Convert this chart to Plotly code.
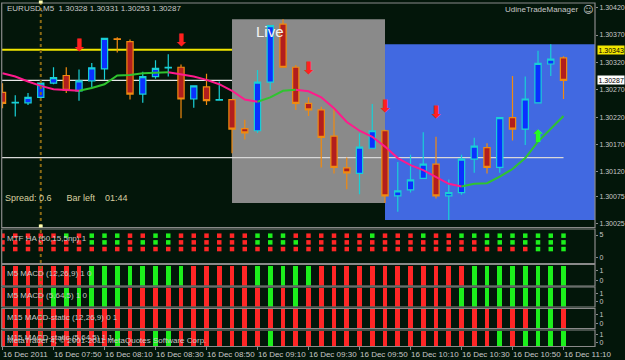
import plotly.graph_objects as go

# ---------------- data ----------------
bars = list(range(45))
opens = [1.30265, 1.30246, 1.30246, 1.30256, 1.30282, 1.30296, 1.30268, 1.30286, 1.30308, 1.30363,
         1.30358, 1.30262, 1.30294, 1.30310, 1.30311, 1.30253, 1.30275, 1.30251, 1.30252, 1.30199,
         1.30195, 1.30284, 1.30390, 1.30311, 1.30245, 1.30233, 1.30185, 1.30127, 1.30117, 1.30163,
         1.30195, 1.30076, 1.30087, 1.30108, 1.30134, 1.30076, 1.30082, 1.30143, 1.30164, 1.30128,
         1.30219, 1.30198, 1.30246, 1.30317, 1.30328]
highs = [1.30282, 1.30260, 1.30264, 1.30285, 1.30311, 1.30311, 1.30307, 1.30319, 1.30365, 1.30366,
         1.30362, 1.30303, 1.30324, 1.30335, 1.30316, 1.30278, 1.30299, 1.30285, 1.30253, 1.30215,
         1.30306, 1.30388, 1.30399, 1.30315, 1.30256, 1.30239, 1.30237, 1.30146, 1.30190, 1.30244,
         1.30197, 1.30138, 1.30151, 1.30192, 1.30184, 1.30106, 1.30151, 1.30182, 1.30172, 1.30220,
         1.30295, 1.30294, 1.30341, 1.30353, 1.30331]
lows = [1.30236, 1.30221, 1.30242, 1.30255, 1.30280, 1.30264, 1.30250, 1.30274, 1.30288, 1.30338,
        1.30252, 1.30246, 1.30290, 1.30294, 1.30218, 1.30237, 1.30242, 1.30250, 1.30154, 1.30179,
        1.30191, 1.30270, 1.30310, 1.30233, 1.30222, 1.30128, 1.30117, 1.30088, 1.30079, 1.30162,
        1.30063, 1.30047, 1.30082, 1.30107, 1.30071, 1.30032, 1.30078, 1.30118, 1.30117, 1.30118,
        1.30177, 1.30169, 1.30245, 1.30295, 1.30253]
closes = [1.30245, 1.30247, 1.30256, 1.30282, 1.30292, 1.30269, 1.30286, 1.30310, 1.30364, 1.30362,
          1.30262, 1.30294, 1.30309, 1.30311, 1.30253, 1.30277, 1.30250, 1.30252, 1.30198, 1.30191,
          1.30284, 1.30387, 1.30311, 1.30245, 1.30233, 1.30183, 1.30128, 1.30118, 1.30165, 1.30195,
          1.30076, 1.30085, 1.30105, 1.30134, 1.30076, 1.30082, 1.30143, 1.30167, 1.30128, 1.30219,
          1.30198, 1.30253, 1.30318, 1.30326, 1.30287]
ma = [1.30300, 1.30294, 1.30285, 1.30277, 1.30271, 1.30269, 1.30268, 1.30273, 1.30280, 1.30296,
      1.30297, 1.30300, 1.30301, 1.30302, 1.30298, 1.30294, 1.30288, 1.30280, 1.30268, 1.30252,
      1.30248, 1.30256, 1.30268, 1.30270, 1.30267, 1.30256, 1.30236, 1.30211, 1.30195, 1.30184,
      1.30166, 1.30145, 1.30132, 1.30123, 1.30110, 1.30098, 1.30093, 1.30098, 1.30099, 1.30111,
      1.30125, 1.30145, 1.30175, 1.30199, 1.30222]

sell_bars = [6, 14, 24, 30, 34]
sell_prices = [1.30348, 1.30357, 1.30306, 1.30237, 1.30226]
buy_bars = [42]
buy_prices = [1.30182]

high_level = 1.30343
trend_level = 1.30146
live_start, live_end = 18, 30
marker_bar = 3

tick_bars = [0, 4, 8, 12, 16, 20, 24, 28, 32, 36, 40, 44]
tick_labels = ["16 Dec 2011", "16 Dec 07:50", "16 Dec 08:10", "16 Dec 08:30", "16 Dec 08:50",
               "16 Dec 09:10", "16 Dec 09:30", "16 Dec 09:50", "16 Dec 10:10", "16 Dec 10:30",
               "16 Dec 10:50", "16 Dec 11:10"]
price_ticks = [1.30420, 1.30370, 1.30320, 1.30270, 1.30220, 1.30170, 1.30120, 1.30075, 1.30025]

# 1 = green (up), 0 = red (down)
ha_row1 = [0,0,0,0,0,1,0,1,1,1,0,0,1,1,0,0,0,0,0,0,1,1,1,0,0,0,0,0,0,1,0,0,0,1,0,0,1,1,1,1,1,1,1,1,1]
ha_row2 = [0,0,0,0,0,0,0,1,1,1,0,1,1,1,0,0,0,0,0,0,1,1,1,1,0,0,0,0,0,0,0,0,0,0,0,0,0,0,1,1,1,1,1,1,1]
ha_row3 = [0,0,0,0,0,0,0,0,0,0,0,0,0,0,0,0,0,0,0,0,0,0,0,0,0,0,0,0,0,0,0,0,0,0,0,0,0,0,0,0,0,0,1,1,1]
macd1 = [0,0,0,0,0,0,0,1,1,1,1,1,1,1,1,0,0,0,0,0,1,1,1,1,1,0,0,0,0,0,0,0,0,0,0,0,0,1,1,1,1,1,1,1,1]
macd2 = [0,0,0,0,1,1,1,1,1,1,0,0,0,0,0,0,0,0,0,0,0,1,0,1,0,0,0,0,0,0,0,0,0,0,0,0,1,1,1,1,1,1,1,1,1]
macd3 = [0,0,0,0,0,0,0,0,0,0,0,0,0,0,0,0,0,0,0,0,0,0,0,0,0,0,0,0,0,0,0,0,0,0,0,0,0,0,0,0,0,0,1,1,0]
macd4 = [0,0,0,0,0,0,0,0,0,1,0,0,1,1,0,0,0,0,0,0,0,1,0,0,0,0,0,0,0,0,0,0,0,0,0,0,0,0,0,1,0,1,1,1,1]

panel_names = ["MTF HA (60,15,5np) 1", "M5 MACD (12,26,9) 1 0", "M5 MACD (5,64,5) 1 0",
               "M15 MACD-static (12,26,9) 0 1", "M15 MACD-static (5,64,5) 1 1"]

# ---------------- styling ----------------
W, H = 625, 360
L, R = 2, 595
BG = "#03160a"
GRID = "#8a8a8a"
TXT = "#c8c8c8"
FONT = "Liberation Sans, Arial, sans-serif"
RED = "#ff2626"
GREEN = "#1cf01c"


def fy(py):
    return (H - py) / H


def fx(px):
    return (px - L) / (R - L)


fig = go.Figure()

# candles
fig.add_trace(go.Candlestick(
    x=bars, open=opens, high=highs, low=lows, close=closes,
    increasing=dict(line=dict(color="#19cfd6", width=1.2), fillcolor="#0a30ff"),
    decreasing=dict(line=dict(color="#f08a10", width=1.2), fillcolor="#b21e1e"),
    whiskerwidth=0, hoverinfo="skip", xaxis="x", yaxis="y", showlegend=False))

# moving average coloured by direction
n = len(ma)
ma_up = [None] * n
ma_dn = [None] * n
for i in range(n - 1):
    if ma[i + 1] >= ma[i]:
        ma_up[i], ma_up[i + 1] = ma[i], ma[i + 1]
    else:
        ma_dn[i], ma_dn[i + 1] = ma[i], ma[i + 1]
fig.add_trace(go.Scatter(x=bars, y=ma_dn, mode="lines", line=dict(color="#ff1a8c", width=2),
                         connectgaps=False, hoverinfo="skip", showlegend=False))
fig.add_trace(go.Scatter(x=bars, y=ma_up, mode="lines", line=dict(color="#2fc42f", width=2),
                         connectgaps=False, hoverinfo="skip", showlegend=False))

# arrows
fig.add_trace(go.Scatter(x=sell_bars, y=sell_prices, mode="text", text=["<b>⬇</b>"] * len(sell_bars),
                         textfont=dict(color="#ff2020", size=17, family="DejaVu Sans"),
                         hoverinfo="skip", showlegend=False))
fig.add_trace(go.Scatter(x=buy_bars, y=buy_prices, mode="text", text=["<b>⬆</b>"] * len(buy_bars),
                         textfont=dict(color="#22ff22", size=17, family="DejaVu Sans"),
                         hoverinfo="skip", showlegend=False))

# MTF HA squares
ha_levels = [4.85, 3.35, 1.85]
for row, lvl in zip([ha_row1, ha_row2, ha_row3], ha_levels):
    fig.add_trace(go.Scatter(x=bars, y=[lvl] * len(bars), mode="markers", yaxis="y2",
                             marker=dict(symbol="square", size=4.5,
                                         color=[GREEN if v else RED for v in row],
                                         line=dict(width=0)),
                             hoverinfo="skip", showlegend=False))

# MACD histograms
for k, arr in enumerate([macd1, macd2, macd3, macd4]):
    fig.add_trace(go.Bar(x=bars, y=[1] * len(bars), yaxis="y%d" % (k + 3), width=0.36,
                         marker=dict(color=[GREEN if v else RED for v in arr],
                                     line=dict(width=0)),
                         hoverinfo="skip", showlegend=False))

# ---------------- shapes ----------------
shapes = []
live_lo = min(lows[live_start:live_end + 1])
live_hi = max(highs[live_start:live_end + 1])
post_lo = min(lows[live_end:])
post_hi = max(highs[live_end:])
xmax = 46.47
shapes.append(dict(type="rect", xref="x", yref="y", x0=live_start, x1=live_end, y0=live_lo, y1=live_hi,
                   fillcolor="#8a8a8a", line=dict(width=0), layer="below"))
shapes.append(dict(type="rect", xref="x", yref="y", x0=live_end, x1=xmax, y0=post_lo, y1=post_hi,
                   fillcolor="#4169e1", line=dict(width=0), layer="below"))
# horizontal levels
shapes.append(dict(type="line", xref="paper", yref="y", x0=0, x1=1, y0=high_level, y1=high_level,
                   line=dict(color="#f2e600", width=2), layer="below"))
shapes.append(dict(type="line", xref="paper", yref="y", x0=0, x1=1, y0=closes[-1], y1=closes[-1],
                   line=dict(color="#e8e8e8", width=1.2), layer="below"))
shapes.append(dict(type="line", xref="x", yref="y", x0=-1, x1=bars[-1], y0=trend_level, y1=trend_level,
                   line=dict(color="#d8d8d8", width=1.2), layer="below"))
# vertical marker line through all panels
shapes.append(dict(type="line", xref="x", yref="paper", x0=marker_bar, x1=marker_bar,
                   y0=fy(347), y1=fy(3), line=dict(color="#8b6a14", width=2, dash="dot"), layer="above"))
# panel frames
frames = [(3, 227.5), (229, 263.5), (264.5, 286), (287, 307), (308.5, 328.5), (330, 346.5)]
for top, bot in frames:
    shapes.append(dict(type="rect", xref="paper", yref="paper", x0=fx(L) - 0.0005, x1=1,
                       y0=fy(bot), y1=fy(top), line=dict(color=GRID, width=1.2), fillcolor="rgba(0,0,0,0)",
                       layer="above"))
# small markers on the vertical line
for py in (2, 226):
    shapes.append(dict(type="rect", xref="x", yref="paper", x0=marker_bar - 0.15, x1=marker_bar + 0.15,
                       y0=fy(py + 1.5), y1=fy(py - 1.5), fillcolor="#ffffb0", line=dict(width=0),
                       layer="above"))

# ---------------- annotations ----------------
ann = []


def text(px, py, s, color=TXT, size=8, anchor="left", family=FONT):
    ann.append(dict(xref="paper", yref="paper", x=fx(px), y=fy(py), text=s, showarrow=False,
                    xanchor=anchor, yanchor="middle", font=dict(color=color, size=size, family=family)))


text(5, 8, "EURUSD,M5  %.5f %.5f %.5f %.5f" % (opens[-1], highs[-1], lows[-1], closes[-1]))
text(580, 9.5, "UdineTradeManager", anchor="right")
text(581, 9.5, "☺", size=10, family="DejaVu Sans")
text(254, 31, "Live", color="#f4f4f4", size=15)
text(3, 198, "Spread: 0.6      Bar left    01:44", color="#d9d0a0", size=9)
text(5, 238.5, panel_names[0])
text(5, 273.5, panel_names[1])
text(5, 295.5, panel_names[2])
text(5, 317.5, panel_names[3])
text(5, 337.5, panel_names[4])
text(5, 340.5, "MetaTrader 4, © 2001-2011 MetaQuotes Software Corp.")
# highlighted price labels on the right axis
for lvl, bg in [(high_level, "#f2e600"), (closes[-1], "#ffffff")]:
    ann.append(dict(xref="paper", yref="y", x=fx(597), y=lvl, text="%.5f" % lvl, showarrow=False,
                    xanchor="left", yanchor="middle", bgcolor=bg, borderpad=0.5,
                    font=dict(color="#000000", size=7, family=FONT)))

axis_common = dict(showgrid=False, zeroline=False, showline=False, side="right", anchor="x",
                   ticks="outside", ticklen=2, tickcolor=GRID, automargin=False,
                   tickfont=dict(color=TXT, size=7, family=FONT), fixedrange=True)

fig.update_layout(
    width=W, height=H,
    margin=dict(l=L, r=W - R, t=0, b=0, autoexpand=False),
    paper_bgcolor=BG, plot_bgcolor=BG,
    showlegend=False, bargap=0,
    shapes=shapes, annotations=ann,
    xaxis=dict(range=[-0.04, xmax], domain=[0, 1], anchor="y6", showgrid=False, zeroline=False,
               showline=False, tickvals=tick_bars, ticktext=tick_labels, ticks="outside", ticklen=3,
               tickcolor=GRID, ticklabelposition="outside right", tickangle=0, automargin=False,
               tickfont=dict(color=TXT, size=8, family=FONT), rangeslider=dict(visible=False)),
    yaxis=dict(axis_common, domain=[fy(227), fy(3)], range=[1.30019, 1.304285],
               tickvals=price_ticks, ticktext=["%.5f" % v for v in price_ticks]),
    yaxis2=dict(axis_common, domain=[fy(262), fy(230)], range=[-1.05, 6.12], tickvals=[0, 5],
                ticktext=["0", "5"]),
    yaxis3=dict(axis_common, domain=[fy(285.5), fy(265.5)], range=[0, 1], tickvals=[0.27, 0.74],
                ticktext=["0", "1"]),
    yaxis4=dict(axis_common, domain=[fy(306.5), fy(288)], range=[0, 1], tickvals=[0.25, 0.72],
                ticktext=["0", "1"]),
    yaxis5=dict(axis_common, domain=[fy(328), fy(309)], range=[0, 1], tickvals=[0.25, 0.72],
                ticktext=["0", "1"]),
    yaxis6=dict(axis_common, domain=[fy(346), fy(330.5)], range=[0, 1], tickvals=[0.25, 0.72],
                ticktext=["0", "1"]),
)

fig.write_html("out.html")
